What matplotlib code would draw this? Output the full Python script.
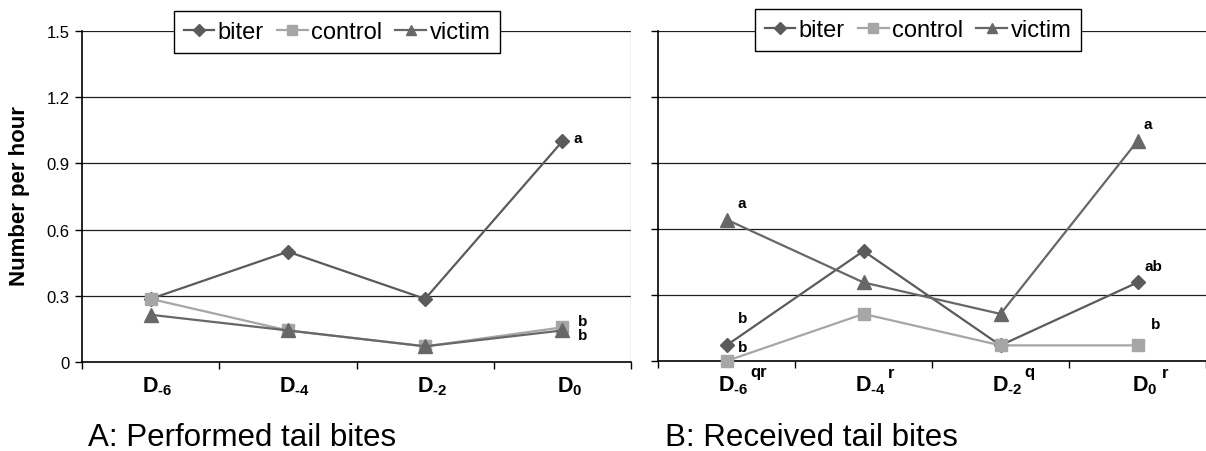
import matplotlib
matplotlib.use("Agg")
import matplotlib.pyplot as plt
import matplotlib.transforms as mtransforms

plt.rcParams['font.family'] = ['Liberation Sans', 'DejaVu Sans']
plt.rcParams['mathtext.fontset'] = 'custom'
plt.rcParams['mathtext.rm'] = 'Liberation Sans'
plt.rcParams['mathtext.bf'] = 'Liberation Sans:bold'

# Tail bites per hour on days before the outbreak (D0)
groups = ['biter', 'control', 'victim']
days = ['$\\mathbf{D_{\u20106}}$', '$\\mathbf{D_{\u20104}}$', '$\\mathbf{D_{\u20102}}$',
        '$\\mathbf{D_{0}}$']
received_day_marks = ['qr', 'r', 'q', 'r']

performed_biter = [0.286, 0.5, 0.286, 1.0]
performed_control = [0.286, 0.143, 0.071, 0.157]
performed_victim = [0.214, 0.143, 0.071, 0.143]

received_biter = [0.071, 0.5, 0.071, 0.357]
received_control = [0.0, 0.214, 0.071, 0.071]
received_victim = [0.643, 0.357, 0.214, 1.0]

# significance letters (empty = none)
performed_letters = [['', '', '', 'a'], ['', '', '', 'b'], ['', '', '', 'b']]
received_letters = [['b', '', '', 'ab'], ['b', '', '', 'b'], ['a', '', '', 'a']]

yticks = [0, 0.3, 0.6, 0.9, 1.2, 1.5]
ytick_labels = ['0', '0.3', '0.6', '0.9', '1.2', '1.5']

colors = ['#5b5b5b', '#a6a6a6', '#676767']
markers = ['D', 's', '^']
msizes = [7.5, 9, 10]

W, H = 1206, 452
fig = plt.figure(figsize=(W / 100, H / 100), dpi=100)
axA = fig.add_axes([82 / W, 1 - 363 / H, (631 - 82) / W, (363 - 32) / H])
axB = fig.add_axes([658 / W, 1 - 362 / H, (1206 - 658) / W, (362 - 32) / H])


def draw_panel(ax, series, letters, offsets, xmax, show_ylabels, legend_x, legend_top):
    x = range(len(days))
    for y in yticks[1:]:
        ax.axhline(y, color='#1e1e1e', lw=0.9, zorder=1)
    for i, vals in enumerate(series):
        ax.plot(x, vals, color=colors[i], marker=markers[i], markersize=msizes[i],
                lw=1.6, label=groups[i], zorder=3, clip_on=False)
    for i, row in enumerate(letters):
        for j, txt in enumerate(row):
            if txt:
                dx, dy = offsets[(i, j)]
                ax.annotate(txt, (j, series[i][j]), xytext=(dx, dy), textcoords='offset pixels',
                            ha='center', va='center', fontsize=11, fontweight='bold')
    ax.set_xlim(-0.5, xmax)
    ax.set_ylim(0, 1.5)
    ax.set_yticks(yticks)
    ax.set_yticklabels(ytick_labels if show_ylabels else [])
    ax.tick_params(axis='y', direction='out', length=5, width=1, labelsize=12, pad=4)
    ax.set_xticks([-0.5, 0.5, 1.5, 2.5, 3.5])
    ax.set_xticklabels([])
    ax.tick_params(axis='x', which='major', direction='out', length=5, width=1)
    ax.set_xticks(list(x), minor=True)
    ax.set_xticklabels(days, minor=True)
    ax.tick_params(axis='x', which='minor', length=0, labelsize=15.5, pad=9)
    # day labels sit a little right of the category centre
    shift = mtransforms.ScaledTranslation(7 / 100, 0, fig.dpi_scale_trans)
    for lab in ax.get_xticklabels(minor=True):
        lab.set_transform(lab.get_transform() + shift)
    for s in ['top', 'right']:
        ax.spines[s].set_visible(False)
    for s in ['left', 'bottom']:
        ax.spines[s].set_linewidth(1.2)
    leg = ax.legend(loc='upper center', bbox_to_anchor=(legend_x, legend_top), ncol=3,
                    fontsize=17, frameon=True, fancybox=False, framealpha=1,
                    edgecolor='black', handlelength=1.3, handletextpad=0.15,
                    columnspacing=0.55, borderpad=0.42, borderaxespad=0, markerscale=0.75)
    leg.get_frame().set_linewidth(1.0)
    leg.set_zorder(5)


offsets_A = {(0, 3): (15, 3), (1, 3): (20, 6), (2, 3): (20, -5)}
offsets_B = {(0, 0): (16, 27), (1, 0): (16, 14), (2, 0): (15, 17),
             (0, 3): (16, 16), (1, 3): (18, 21), (2, 3): (10, 17)}

draw_panel(axA, [performed_biter, performed_control, performed_victim], performed_letters,
           offsets_A, 3.5, True, 0.4645, 1.06)
draw_panel(axB, [received_biter, received_control, received_victim], received_letters,
           offsets_B, 3.471, False, 0.4745, 1.067)

# superscript letters for the day comparisons in panel B
for j, mark in enumerate(received_day_marks):
    axB.annotate(mark, (j, 0), xycoords=('data', 'axes fraction'), xytext=(24, -11),
                 textcoords='offset pixels', ha='left', va='center',
                 fontsize=12, fontweight='bold', annotation_clip=False)

# light frame edge on the right of panel A
axA.axvline(3.5, color='#c4c4c4', lw=1.0, zorder=1)

fig.text(20 / W, 1 - 196 / H, 'Number per hour', rotation=90, ha='center', va='center',
         fontsize=16, fontweight='bold')
fig.text(88 / W, 1 - 446 / H, 'A: Performed tail bites', ha='left', va='baseline', fontsize=22.5)
fig.text(665 / W, 1 - 446 / H, 'B: Received tail bites', ha='left', va='baseline', fontsize=22.5)

fig.savefig('out.png', dpi=100)
